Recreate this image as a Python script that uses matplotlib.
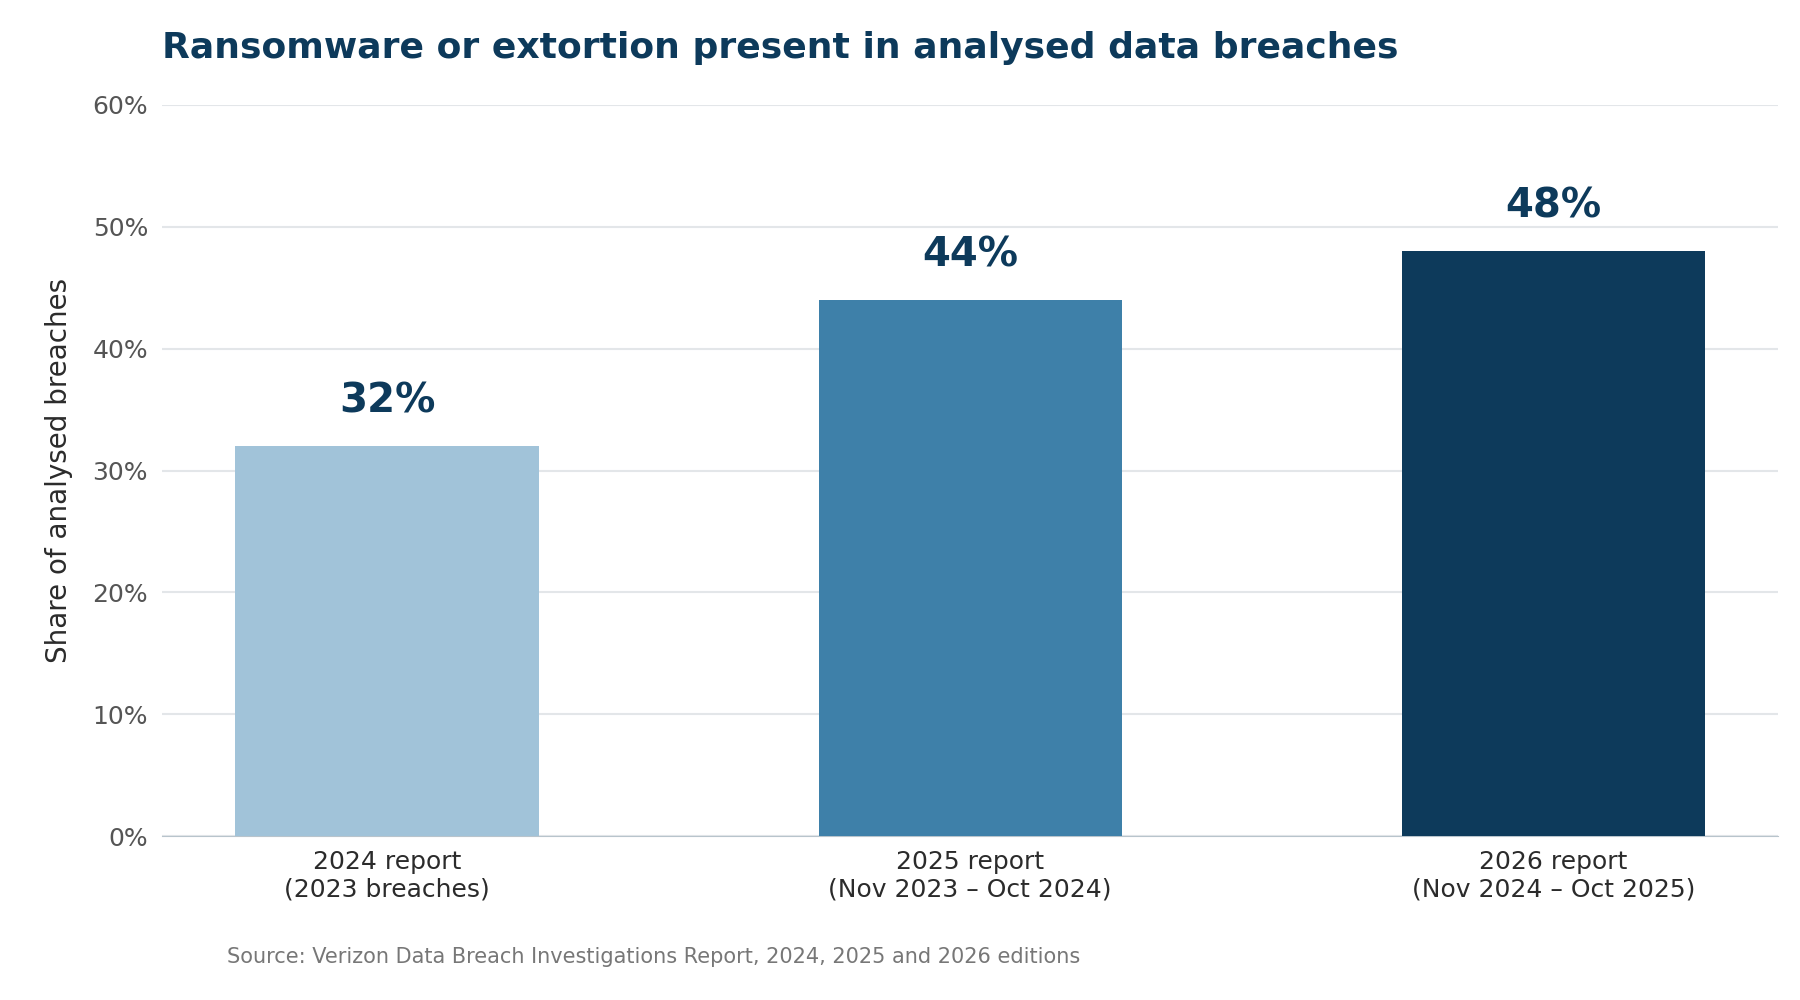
import matplotlib.pyplot as plt
from matplotlib.ticker import PercentFormatter

categories = ["2024 report\n(2023 breaches)", "2025 report\n(Nov 2023 – Oct 2024)", "2026 report\n(Nov 2024 – Oct 2025)"]
values = [32, 44, 48]
colors = ["#a1c3d9", "#3e80a9", "#0d3a5b"]

fig = plt.figure(figsize=(18, 10), dpi=100)
ax = fig.add_axes([0.09, 0.164, 0.898, 0.731])

x = range(len(values))
bars = ax.bar(x, values, width=0.52, color=colors, zorder=3)
for xi, v in zip(x, values):
    ax.text(xi, v + 2, f"{v}%", ha="center", va="bottom", fontsize=29,
            fontweight="bold", color="#0d3a5b")

ax.set_xlim(-0.386, 2.386)
ax.set_ylim(0, 60)
ax.set_yticks(range(0, 61, 10))
ax.yaxis.set_major_formatter(PercentFormatter(decimals=0))
ax.set_xticks(list(x))
ax.set_xticklabels(categories, fontsize=18, color="#2b2b2b")
ax.tick_params(axis="y", labelsize=18, labelcolor="#555555", length=0, pad=10)
ax.tick_params(axis="x", length=0, pad=10)
ax.grid(axis="y", color="#e3e6e9", linewidth=1.5, zorder=0)
for s in ["top", "right", "left"]:
    ax.spines[s].set_visible(False)
ax.spines["bottom"].set_color("#b8c4cc")
ax.set_ylabel("Share of analysed breaches", fontsize=20, color="#2b2b2b", labelpad=14)

fig.text(0.09, 0.935, "Ransomware or extortion present in analysed data breaches",
         fontsize=26, fontweight="bold", color="#0d3a5b", ha="left", va="bottom")
fig.text(0.126, 0.033, "Source: Verizon Data Breach Investigations Report, 2024, 2025 and 2026 editions",
         fontsize=15, color="#777777", ha="left", va="bottom")

fig.savefig("out.png")
